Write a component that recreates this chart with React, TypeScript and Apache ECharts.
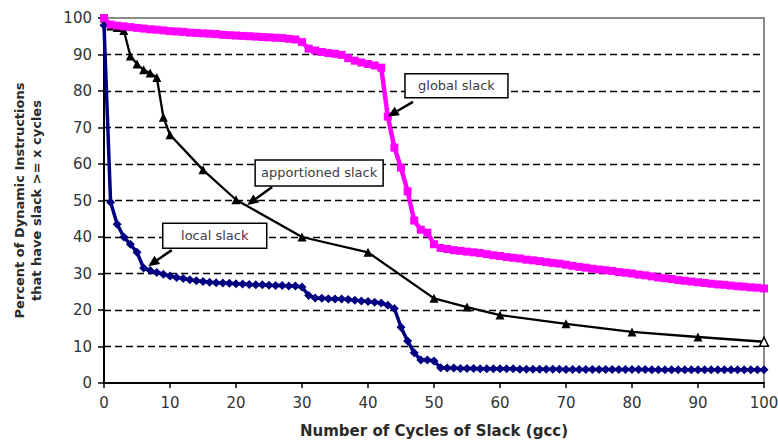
import React, { useEffect, useRef } from "react";
import * as echarts from "echarts";

// Percent of dynamic instructions with slack >= x cycles (gcc), sampled at x = 0..100
const globalSlack = [
  100, 98.2, 97.9, 97.7, 97.5, 97.3, 97.1, 96.9, 96.8, 96.6,
  96.4, 96.3, 96.2, 96.0, 95.9, 95.8, 95.7, 95.6, 95.4, 95.3,
  95.2, 95.1, 95.0, 94.9, 94.8, 94.7, 94.6, 94.5, 94.3, 94.1,
  93.4, 91.6, 91.1, 90.7, 90.4, 90.2, 89.9, 89.0, 88.3, 87.8,
  87.4, 87.0, 86.4, 73.0, 64.5, 59.0, 52.5, 44.5, 42.0, 41.2,
  38.0, 37.0, 36.7, 36.4, 36.2, 36.0, 35.8, 35.6, 35.3, 35.0,
  34.8, 34.5, 34.3, 34.1, 33.8, 33.6, 33.4, 33.1, 32.9, 32.7,
  32.4, 32.1, 31.8, 31.6, 31.3, 31.1, 30.9, 30.7, 30.4, 30.2,
  30.0, 29.7, 29.5, 29.2, 28.9, 28.7, 28.5, 28.2, 28.0, 27.8,
  27.6, 27.4, 27.2, 27.0, 26.9, 26.7, 26.5, 26.4, 26.2, 26.1,
  25.9,
];

const localSlack = [
  98, 49.5, 43.5, 40.0, 38.0, 35.8, 31.5, 30.8, 30.3, 29.8,
  29.3, 28.9, 28.6, 28.3, 28.0, 27.8, 27.6, 27.5, 27.4, 27.3,
  27.2, 27.1, 27.0, 26.9, 26.9, 26.8, 26.7, 26.7, 26.6, 26.6,
  26.3, 24.0, 23.3, 23.2, 23.1, 23.0, 23.0, 22.9, 22.7, 22.5,
  22.3, 22.1, 21.9, 21.3, 20.4, 15.3, 11.5, 8.3, 6.3, 6.3,
  6.0, 4.2, 4.1, 4.1, 4.0, 4.0, 4.0, 3.9, 3.9, 3.9,
  3.9, 3.9, 3.9, 3.8, 3.8, 3.8, 3.8, 3.8, 3.8, 3.8,
  3.7, 3.7, 3.7, 3.7, 3.7, 3.7, 3.7, 3.7, 3.7, 3.7,
  3.7, 3.7, 3.7, 3.6, 3.6, 3.6, 3.6, 3.6, 3.6, 3.6,
  3.6, 3.6, 3.6, 3.6, 3.6, 3.6, 3.6, 3.6, 3.6, 3.6,
  3.6,
];

const apportionedCycles = [0, 1, 2, 3, 4, 5, 6, 7, 8, 9, 10, 15, 20, 30, 40, 50, 55, 60, 70, 80, 90, 100];
const apportionedSlack = [100, 97.8, 97.4, 96.6, 89.6, 87.4, 85.8, 84.9, 83.7, 72.8, 68.0, 58.4, 50.2, 40.0, 35.8, 23.2, 20.8, 18.6, 16.2, 14.0, 12.6, 11.3];

const xAxisTitle = "Number of Cycles of Slack (gcc)";
const yAxisTitle = "Percent of Dynamic Instructions\nthat have slack >= x cycles";

// Callout boxes: `target` is the data point the arrow points at,
// `box` is the box's top-left corner in data units.
const callouts = [
  { label: "global slack", target: [43, 73], box: [45.6, 84.7], w: 103, h: 24, tail: [8, 4] },
  { label: "apportioned slack", target: [21.7, 48.8], box: [22.9, 61.1], w: 128, h: 26, tail: [17, 1] },
  { label: "local slack", target: [6.7, 32.0], box: [8.9, 43.8], w: 104, h: 25, tail: [9, 2] },
];

const labelFont = "DejaVu Sans";

export default function App() {
  const ref = useRef<HTMLDivElement>(null);

  useEffect(() => {
    const el = ref.current;
    if (!el) return;
    const chart = echarts.init(el, null, { renderer: "svg" });

    const option: any = {
      animation: false,
      backgroundColor: "#ffffff",
      grid: {
        left: 104,
        right: 14,
        top: 18,
        bottom: 65,
        containLabel: false,
        outerBoundsMode: "none",
        show: true,
        backgroundColor: "#ffffff",
        borderColor: "#8a8a8a",
        borderWidth: 2,
      },
      xAxis: {
        type: "value",
        min: 0,
        max: 100,
        interval: 10,
        name: xAxisTitle,
        nameLocation: "middle",
        nameGap: 40,
        nameTextStyle: { fontFamily: labelFont, fontWeight: "bold", fontSize: 15, color: "#2a2a2a" },
        axisLine: { show: true, onZero: false, lineStyle: { color: "#000", width: 2 } },
        axisTick: { show: true, length: 5, lineStyle: { color: "#000", width: 1.5 } },
        axisLabel: { fontFamily: labelFont, fontSize: 15, color: "#333", margin: 12 },
        splitLine: { show: false },
      },
      yAxis: {
        type: "value",
        min: 0,
        max: 100,
        interval: 10,
        name: yAxisTitle,
        nameLocation: "middle",
        nameGap: 59,
        nameTextStyle: { fontFamily: labelFont, fontWeight: "bold", fontSize: 13, color: "#2a2a2a", lineHeight: 17 },
        axisLine: { show: true, lineStyle: { color: "#000", width: 2 } },
        axisTick: { show: true, length: 6, lineStyle: { color: "#000", width: 1.5 } },
        axisLabel: { fontFamily: labelFont, fontSize: 15, color: "#333", margin: 12 },
        splitLine: {
          show: true,
          showMinLine: false,
          showMaxLine: false,
          lineStyle: { color: "#000", width: 1.3, type: [7, 4] },
        },
      },
      series: [
        {
          name: "local slack",
          type: "line",
          data: localSlack.map((v, i) => [i, v]),
          symbol: "diamond",
          symbolSize: 9,
          showAllSymbol: true,
          lineStyle: { color: "#000080", width: 3.5 },
          itemStyle: { color: "#000080" },
          z: 2,
        },
        {
          name: "apportioned slack",
          type: "line",
          data: apportionedSlack.map((v, i) => {
            const point: any = { value: [apportionedCycles[i], v] };
            if (i === apportionedSlack.length - 1) {
              point.itemStyle = { color: "#ffffff", borderColor: "#000", borderWidth: 1.5 };
            }
            return point;
          }),
          symbol: "triangle",
          symbolSize: 9,
          showAllSymbol: true,
          lineStyle: { color: "#000", width: 2.3 },
          itemStyle: { color: "#000" },
          z: 3,
        },
        {
          name: "global slack",
          type: "line",
          data: globalSlack.map((v, i) => [i, v]),
          symbol: "rect",
          symbolSize: 8,
          showAllSymbol: true,
          lineStyle: { color: "#ff00ff", width: 4.5 },
          itemStyle: { color: "#ff00ff" },
          z: 4,
        },
      ],
    };

    chart.setOption(option);

    const toPx = (p: number[]) => chart.convertToPixel({ gridIndex: 0 }, p) as number[];
    const elements: any[] = [];
    callouts.forEach((c) => {
      const [bx, by] = toPx(c.box);
      const [tx, ty] = toPx(c.target);
      const sx = bx + c.tail[0];
      const sy = by + c.h + c.tail[1];
      const ang = Math.atan2(ty - sy, tx - sx);
      const headLen = 11;
      const headHalf = 5;
      const baseX = tx - headLen * Math.cos(ang);
      const baseY = ty - headLen * Math.sin(ang);
      const nx = Math.sin(ang);
      const ny = -Math.cos(ang);
      elements.push({
        type: "line",
        z: 100,
        shape: { x1: sx, y1: sy, x2: baseX, y2: baseY },
        style: { stroke: "#000", lineWidth: 2.5 },
      });
      elements.push({
        type: "polygon",
        z: 100,
        shape: {
          points: [
            [tx, ty],
            [baseX + headHalf * nx, baseY + headHalf * ny],
            [baseX - headHalf * nx, baseY - headHalf * ny],
          ],
        },
        style: { fill: "#000" },
      });
      elements.push({
        type: "rect",
        z: 100,
        shape: { x: bx, y: by, width: c.w, height: c.h },
        style: { fill: "#ffffff", stroke: "#000", lineWidth: 1.5 },
      });
      elements.push({
        type: "text",
        z: 101,
        x: bx + c.w / 2,
        y: by + c.h / 2,
        style: {
          text: c.label,
          fill: "#3c3c4a",
          fontFamily: labelFont,
          fontSize: 13,
          align: "center",
          verticalAlign: "middle",
          textAlign: "center",
          textVerticalAlign: "middle",
        },
      });
    });
    chart.setOption({ graphic: elements });

    return () => chart.dispose();
  }, []);

  return (
    <div
      ref={ref}
      style={{ position: "absolute", left: 0, top: 0, width: 778, height: 448 }}
    />
  );
}
